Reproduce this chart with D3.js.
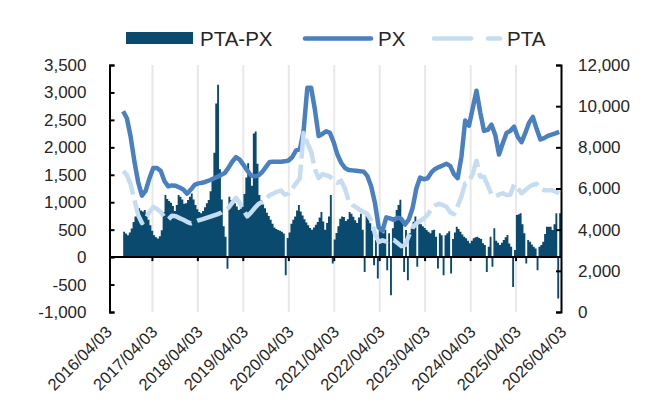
<!DOCTYPE html>
<html>
<head>
<meta charset="utf-8">
<script src="https://cdnjs.cloudflare.com/ajax/libs/d3/7.8.5/d3.min.js"></script>
<style>
  body { margin: 0; background: #fff; }
  text { font-family: "Liberation Sans", Arial, sans-serif; }
</style>
</head>
<body>
<div id="chart"></div>
<script>
// monthly points, Aug 2016 -> Mar 2026 (right axis)
var pxValues = [
  9750, 9400, 8500, 7300, 6300, 5650, 5900, 6500, 7000, 7000,
  6850, 6350, 6100, 6150, 6130, 6050, 5950, 5750, 5950, 6180,
  6250, 6280, 6330, 6400, 6480, 6560, 6650, 6750, 7000, 7300,
  7520, 7400, 7150, 6880, 6630, 6590, 6640, 6800, 7050, 7290,
  7300, 7300, 7300, 7320, 7360, 7530, 7850, 7900, 8800, 10900,
  10900, 9850, 8550, 8650, 8780, 8700, 8250, 7650, 7250, 7000,
  6900, 6880, 6860, 6840, 6820, 6600, 6100, 5280, 4100, 3950,
  4600, 4550, 4480, 4580, 4520, 4250, 4500, 5050, 6000, 6530,
  6450, 6500, 6780, 6950, 7040, 7120, 7200, 7100, 6700, 6500,
  7550, 9300, 9050, 9900, 10750, 9700, 8800, 8850, 9100, 8600,
  7650, 8200, 8700, 8800, 9000, 8500, 8250, 8700, 9200, 9480,
  8900, 8380, 8450, 8560, 8620, 8680, 8750
];
var ptaValues = [
  6850, 6650, 6200, 5450, 4700, 4320, 4550, 4850, 5100, 5000,
  4860, 4600, 4500, 4680, 4650, 4560, 4480, 4380, 4310, 4380,
  4450, 4500, 4560, 4620, 4680, 4740, 4820, 4950, 5060, 5300,
  5550, 5300, 4950, 4650, 4830, 5050, 5250, 5350, 5500, 5680,
  5760, 5850, 5900, 5700, 5750, 6000, 6250, 6500, 8700, 8200,
  7800, 6950, 6500, 6700, 6650, 6580, 6400, 6270, 6380, 6000,
  5400, 5200, 5080, 4950, 4860, 4750, 4450, 3800, 3400, 3480,
  3420, 3500, 3500, 3350, 3200, 3250, 3700, 4100, 4300, 4420,
  4550, 4720, 5000, 5170, 5260, 5200, 5110, 4850, 4750, 5150,
  5620, 6250, 6330, 6700, 7350, 6570, 6570, 6150, 5720, 5620,
  5700, 5770, 5680, 5700, 6200, 6000, 5770, 5920, 6080, 6180,
  6230, 6000, 5920, 5920, 5930, 5850, 5770
];
// half-month bars (left axis)
var spreadValues = [
  463, 430, 400, 450, 520, 640, 740, 850, 890, 850,
  830, 860, 780, 680, 580, 480, 400, 360, 340, 380,
  490, 820, 1130, 1060, 1020, 990, 930, 840, 950, 1130,
  1100, 1050, 970, 980, 1040, 1100, 1160, 1050, 950, 870,
  820, 800, 840, 910, 980, 1040, 1200, 1400, 1900, 2800,
  3140, 1600, 1050, 560, 370, -210, 1100, 1040, 1000, 980,
  920, 860, 880, 950, 1150, 1450, 1710, 1500, 1300, 2250,
  2290, 1700, 1130, 1040, 960, 890, 810, 750, 680, 610,
  540, 510, 494, 480, 460, 430, -330, 350, 450, 610,
  680, 740, 850, 950, 830, 760, 690, 630, 580, 530,
  500, 540, 590, 640, 720, 820, 650, 500, 620, 740,
  1130, -115, 320, 440, 560, 700, 740, 730, 660, 690,
  820, 790, 737, 670, 620, 720, 790, 500, -269, 820,
  720, 616, 480, -146, 311, -390, 480, 460, 434, 500,
  -238, 434, -695, 525, 650, 860, 950, 1043, 700, -269,
  494, -421, 434, 520, 646, 740, -177, 680, 600, 560,
  530, 494, 460, 434, 490, 500, 372, -207, 434, 400,
  -330, 400, 434, 470, -298, 330, 450, 555, 510, 460,
  410, 370, 342, 300, 251, 300, 342, 360, 372, 350,
  330, 251, 220, -269, 189, 372, -177, 525, 300, 260,
  220, 260, 311, 360, 403, 250, 189, -543, 128, 769,
  780, 799, 600, 434, -115, 311, 280, 230, 189, 159,
  -238, 189, 220, 280, 420, 555, 555, 555, 494, 600,
  799, -756, 800
];
var yearLabels = ["2016/04/03", "2017/04/03", "2018/04/03", "2019/04/03", "2020/04/03",
  "2021/04/03", "2022/04/03", "2023/04/03", "2024/04/03", "2025/04/03", "2026/04/03"];
var leftTicks = [-1000, -500, 0, 500, 1000, 1500, 2000, 2500, 3000, 3500];
var rightTicks = [0, 2000, 4000, 6000, 8000, 10000, 12000];
var seriesNames = ["PTA-PX", "PX", "PTA"];

var colBar = "#0b4a6f", colPX = "#4a7fc0", colPTA = "#c6ddf1";
var DAY = 864e5;
var start = new Date(2016, 7, 11);

var parse = d3.timeParse("%Y/%m/%d");
var yearDates = yearLabels.map(parse);

var plotTop = 65, plotBottom = 312, axisL = 109.5, axisR = 561;

var x = d3.scaleTime().domain([yearDates[0], yearDates[yearDates.length - 1]]).range([107, 561.5]);
var yL = d3.scaleLinear().domain([-1000, 3500]).range([plotBottom, plotTop]);
var yR = d3.scaleLinear().domain([0, 12000]).range([plotBottom, plotTop]);

var fmt = d3.formatLocale({decimal: ".", thousands: ",", grouping: [3], currency: ["", ""], minus: "-"}).format(",");

var lineData = function(vals) {
  return vals.map(function(v, i) { return {date: new Date(start.getTime() + i * 30.2 * DAY), v: v}; });
};
// each bar runs from its date to the next one
var barData = spreadValues.map(function(v, k) {
  return {date: new Date(start.getTime() + k * 15.1 * DAY), v: v};
});
barData.push({date: new Date(start.getTime() + spreadValues.length * 15.1 * DAY),
  v: spreadValues[spreadValues.length - 1]});

var svg = d3.select("#chart").append("svg")
  .attr("width", 653).attr("height", 412);

// year grid
svg.append("g").selectAll("line")
  .data(yearDates.slice(1, -1))
  .enter().append("line")
  .attr("x1", function(d) { return x(d); })
  .attr("x2", function(d) { return x(d); })
  .attr("y1", plotTop).attr("y2", plotBottom)
  .style("stroke", "#e8e8e8").style("stroke-width", 2);

// spread bars as one stepped shape so neighbouring bars leave no seams
var bars = d3.area()
  .curve(d3.curveStepAfter)
  .x(function(d) { return x(d.date); })
  .y0(yL(0))
  .y1(function(d) { return yL(d.v); });

svg.append("path")
  .datum(barData)
  .attr("d", bars)
  .style("fill", colBar);

var line = d3.line()
  .x(function(d) { return x(d.date); })
  .y(function(d) { return yR(d.v); });

svg.append("path")
  .datum(lineData(pxValues))
  .attr("d", line)
  .style("fill", "none").style("stroke", colPX)
  .style("stroke-width", 4.5).style("stroke-linejoin", "round");

svg.append("path")
  .datum(lineData(ptaValues))
  .attr("d", line)
  .style("fill", "none").style("stroke", colPTA)
  .style("stroke-width", 4.5).style("stroke-linejoin", "round")
  .style("stroke-dasharray", "26,6");

// zero line + year ticks
svg.append("line")
  .attr("x1", axisL).attr("x2", axisR)
  .attr("y1", yL(0)).attr("y2", yL(0))
  .style("stroke", "#000").style("stroke-width", 2);

svg.append("g").selectAll("line")
  .data(yearDates.slice(1, -1))
  .enter().append("line")
  .attr("x1", function(d) { return x(d); })
  .attr("x2", function(d) { return x(d); })
  .attr("y1", yL(0)).attr("y2", yL(0) + 4)
  .style("stroke", "#000").style("stroke-width", 2);

// year labels
svg.append("g").selectAll("text")
  .data(yearDates)
  .enter().append("text")
  .attr("transform", function(d) { return "translate(" + (x(d) + 6) + "," + 333 + ") rotate(-45)"; })
  .style("text-anchor", "end")
  .style("font-size", "16.5px")
  .style("fill", "#262626")
  .text(function(d, i) { return yearLabels[i]; });

// left axis
var gL = svg.append("g")
  .attr("transform", "translate(" + axisL + ",0)")
  .call(d3.axisLeft(yL).tickValues(leftTicks).tickFormat(fmt)
    .tickSizeInner(-5).tickSizeOuter(-5).tickPadding(23));

// right axis
var gR = svg.append("g")
  .attr("transform", "translate(" + axisR + ",0)")
  .call(d3.axisRight(yR).tickValues(rightTicks).tickFormat(fmt)
    .tickSizeInner(-5).tickSizeOuter(-5).tickPadding(17));

[gL, gR].forEach(function(g) {
  g.selectAll("path, line").style("stroke", "#000").style("stroke-width", 2);
  g.selectAll("text").style("font-size", "17px").style("fill", "#262626")
    .style("font-family", "'Liberation Sans', Arial, sans-serif");
});

// legend
var leg = svg.append("g");
leg.append("rect").attr("x", 126).attr("y", 32).attr("width", 67).attr("height", 12).style("fill", colBar);
leg.append("line").attr("x1", 305).attr("x2", 371).attr("y1", 38.5).attr("y2", 38.5)
  .style("stroke", colPX).style("stroke-width", 4.5).style("stroke-linecap", "round");
leg.append("line").attr("x1", 434).attr("x2", 500).attr("y1", 38.5).attr("y2", 38.5)
  .style("stroke", colPTA).style("stroke-width", 4.5).style("stroke-linecap", "round")
  .style("stroke-dasharray", "37,17");
leg.selectAll("text")
  .data([200, 378, 507])
  .enter().append("text")
  .attr("x", function(d) { return d; })
  .attr("y", 45.5)
  .style("font-size", "20.5px")
  .style("fill", "#262626")
  .text(function(d, i) { return seriesNames[i]; });
</script>
</body>
</html>
